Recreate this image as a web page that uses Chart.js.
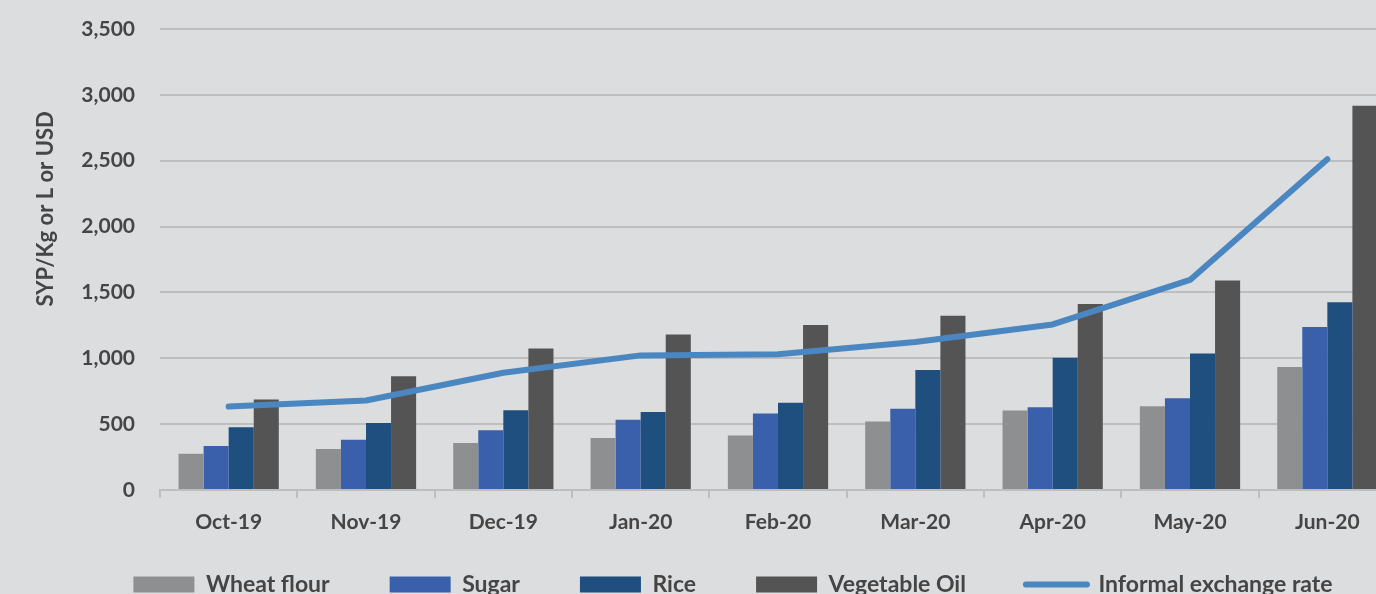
<!DOCTYPE html>
<html>
<head>
<meta charset="utf-8">
<script src="https://cdn.jsdelivr.net/npm/chart.js@4.4.0/dist/chart.umd.min.js"></script>
<style>
  html, body { margin: 0; padding: 0; background: #dcdddf; overflow: hidden; width: 1376px; height: 594px; }
  canvas { position: absolute; left: 0; top: 0; }
</style>
</head>
<body>
<canvas id="chart" width="1466" height="606"></canvas>
<script>
const months = ['Oct-19', 'Nov-19', 'Dec-19', 'Jan-20', 'Feb-20', 'Mar-20', 'Apr-20', 'May-20', 'Jun-20'];
const wheatFlour = [275, 311, 356, 394, 414, 521, 603, 636, 934];
const sugar = [334, 382, 453, 534, 580, 616, 628, 697, 1237];
const rice = [476, 509, 605, 593, 662, 911, 1005, 1036, 1425];
const vegetableOil = [687, 863, 1074, 1181, 1252, 1323, 1412, 1590, 2918];
const exchangeRate = [634, 680, 890, 1022, 1030, 1124, 1257, 1595, 2511];
const yTitle = 'SYP/Kg or L or USD';

const textColor = '#454545';
const gridColor = '#bdbec0';
const font = 'Lato, "Open Sans", sans-serif';

function barSet(label, data, color) {
  return {
    type: 'bar',
    label: label,
    data: data,
    backgroundColor: color,
    borderWidth: 0,
    order: 1,
    barPercentage: 1,
    categoryPercentage: 0.73
  };
}

// y axis title sits a bit above the middle of the axis in the original
const yTitlePlugin = {
  id: 'yTitle',
  afterDraw(chart) {
    const ctx = chart.ctx;
    const area = chart.chartArea;
    ctx.save();
    ctx.translate(46, area.top + (area.bottom - area.top) * 0.39);
    ctx.rotate(-Math.PI / 2);
    ctx.font = 'bold 22px ' + font;
    ctx.fillStyle = textColor;
    ctx.textAlign = 'center';
    ctx.textBaseline = 'middle';
    ctx.fillText(yTitle, 0, 0);
    ctx.restore();
  }
};

new Chart(document.getElementById('chart'), {
  data: {
    labels: months,
    datasets: [
      barSet('Wheat flour', wheatFlour, '#8e8f91'),
      barSet('Sugar', sugar, '#3a60ab'),
      barSet('Rice', rice, '#1f4f7f'),
      barSet('Vegetable Oil', vegetableOil, '#545454'),
      {
        type: 'line',
        label: 'Informal exchange rate',
        data: exchangeRate,
        borderColor: '#4a87c1',
        backgroundColor: '#4a87c1',
        borderWidth: 6,
        borderCapStyle: 'round',
        borderJoinStyle: 'round',
        pointRadius: 0,
        tension: 0,
        order: 0
      }
    ]
  },
  plugins: [yTitlePlugin],
  options: {
    responsive: false,
    animation: false,
    layout: { padding: { top: 29, right: 70, left: 70, bottom: 0 } },
    scales: {
      x: {
        offset: true,
        grid: { display: true, drawOnChartArea: false, drawTicks: true, tickLength: 8, color: gridColor, lineWidth: 2, offset: true },
        border: { display: true, color: gridColor, width: 2 },
        ticks: { color: textColor, padding: 12, maxRotation: 0, font: { family: font, size: 21, weight: 'bold' } },
        afterFit: function(scale) {
          // labels hang below into the legend band, so don't clip them
          scale.height = 23;
          scale._computeLabelArea = () => null;
        }
      },
      y: {
        min: 0,
        max: 3500,
        ticks: {
          stepSize: 500,
          padding: 25,
          color: textColor,
          font: { family: font, size: 21, weight: 'bold' },
          callback: v => v.toLocaleString('en-US')
        },
        grid: { color: gridColor, lineWidth: 2, drawTicks: false },
        border: { display: false },
        afterFit: function(scale) {
          scale.width = 90;
          scale.paddingTop = 10;
          scale.paddingBottom = 10;
          scale._computeLabelArea = () => null;
        }
      }
    },
    plugins: {
      tooltip: { enabled: false },
      legend: {
        position: 'bottom',
        labels: {
          usePointStyle: true,
          pointStyleWidth: 61,
          boxHeight: 16,
          padding: 60,
          color: textColor,
          font: { family: font, size: 23, weight: 'bold' },
          sort: (a, b) => a.datasetIndex - b.datasetIndex,
          generateLabels: function(chart) {
            const items = Chart.defaults.plugins.legend.labels.generateLabels(chart);
            items.forEach(item => {
              const ds = chart.data.datasets[item.datasetIndex];
              if (ds.type === 'line') {
                item.pointStyle = 'line';
                item.lineWidth = 6;
                item.lineCap = 'round';
                item.strokeStyle = ds.borderColor;
              } else {
                item.pointStyle = 'rect';
                item.lineWidth = 0;
              }
            });
            return items;
          }
        }
      }
    }
  }
});
</script>
</body>
</html>
